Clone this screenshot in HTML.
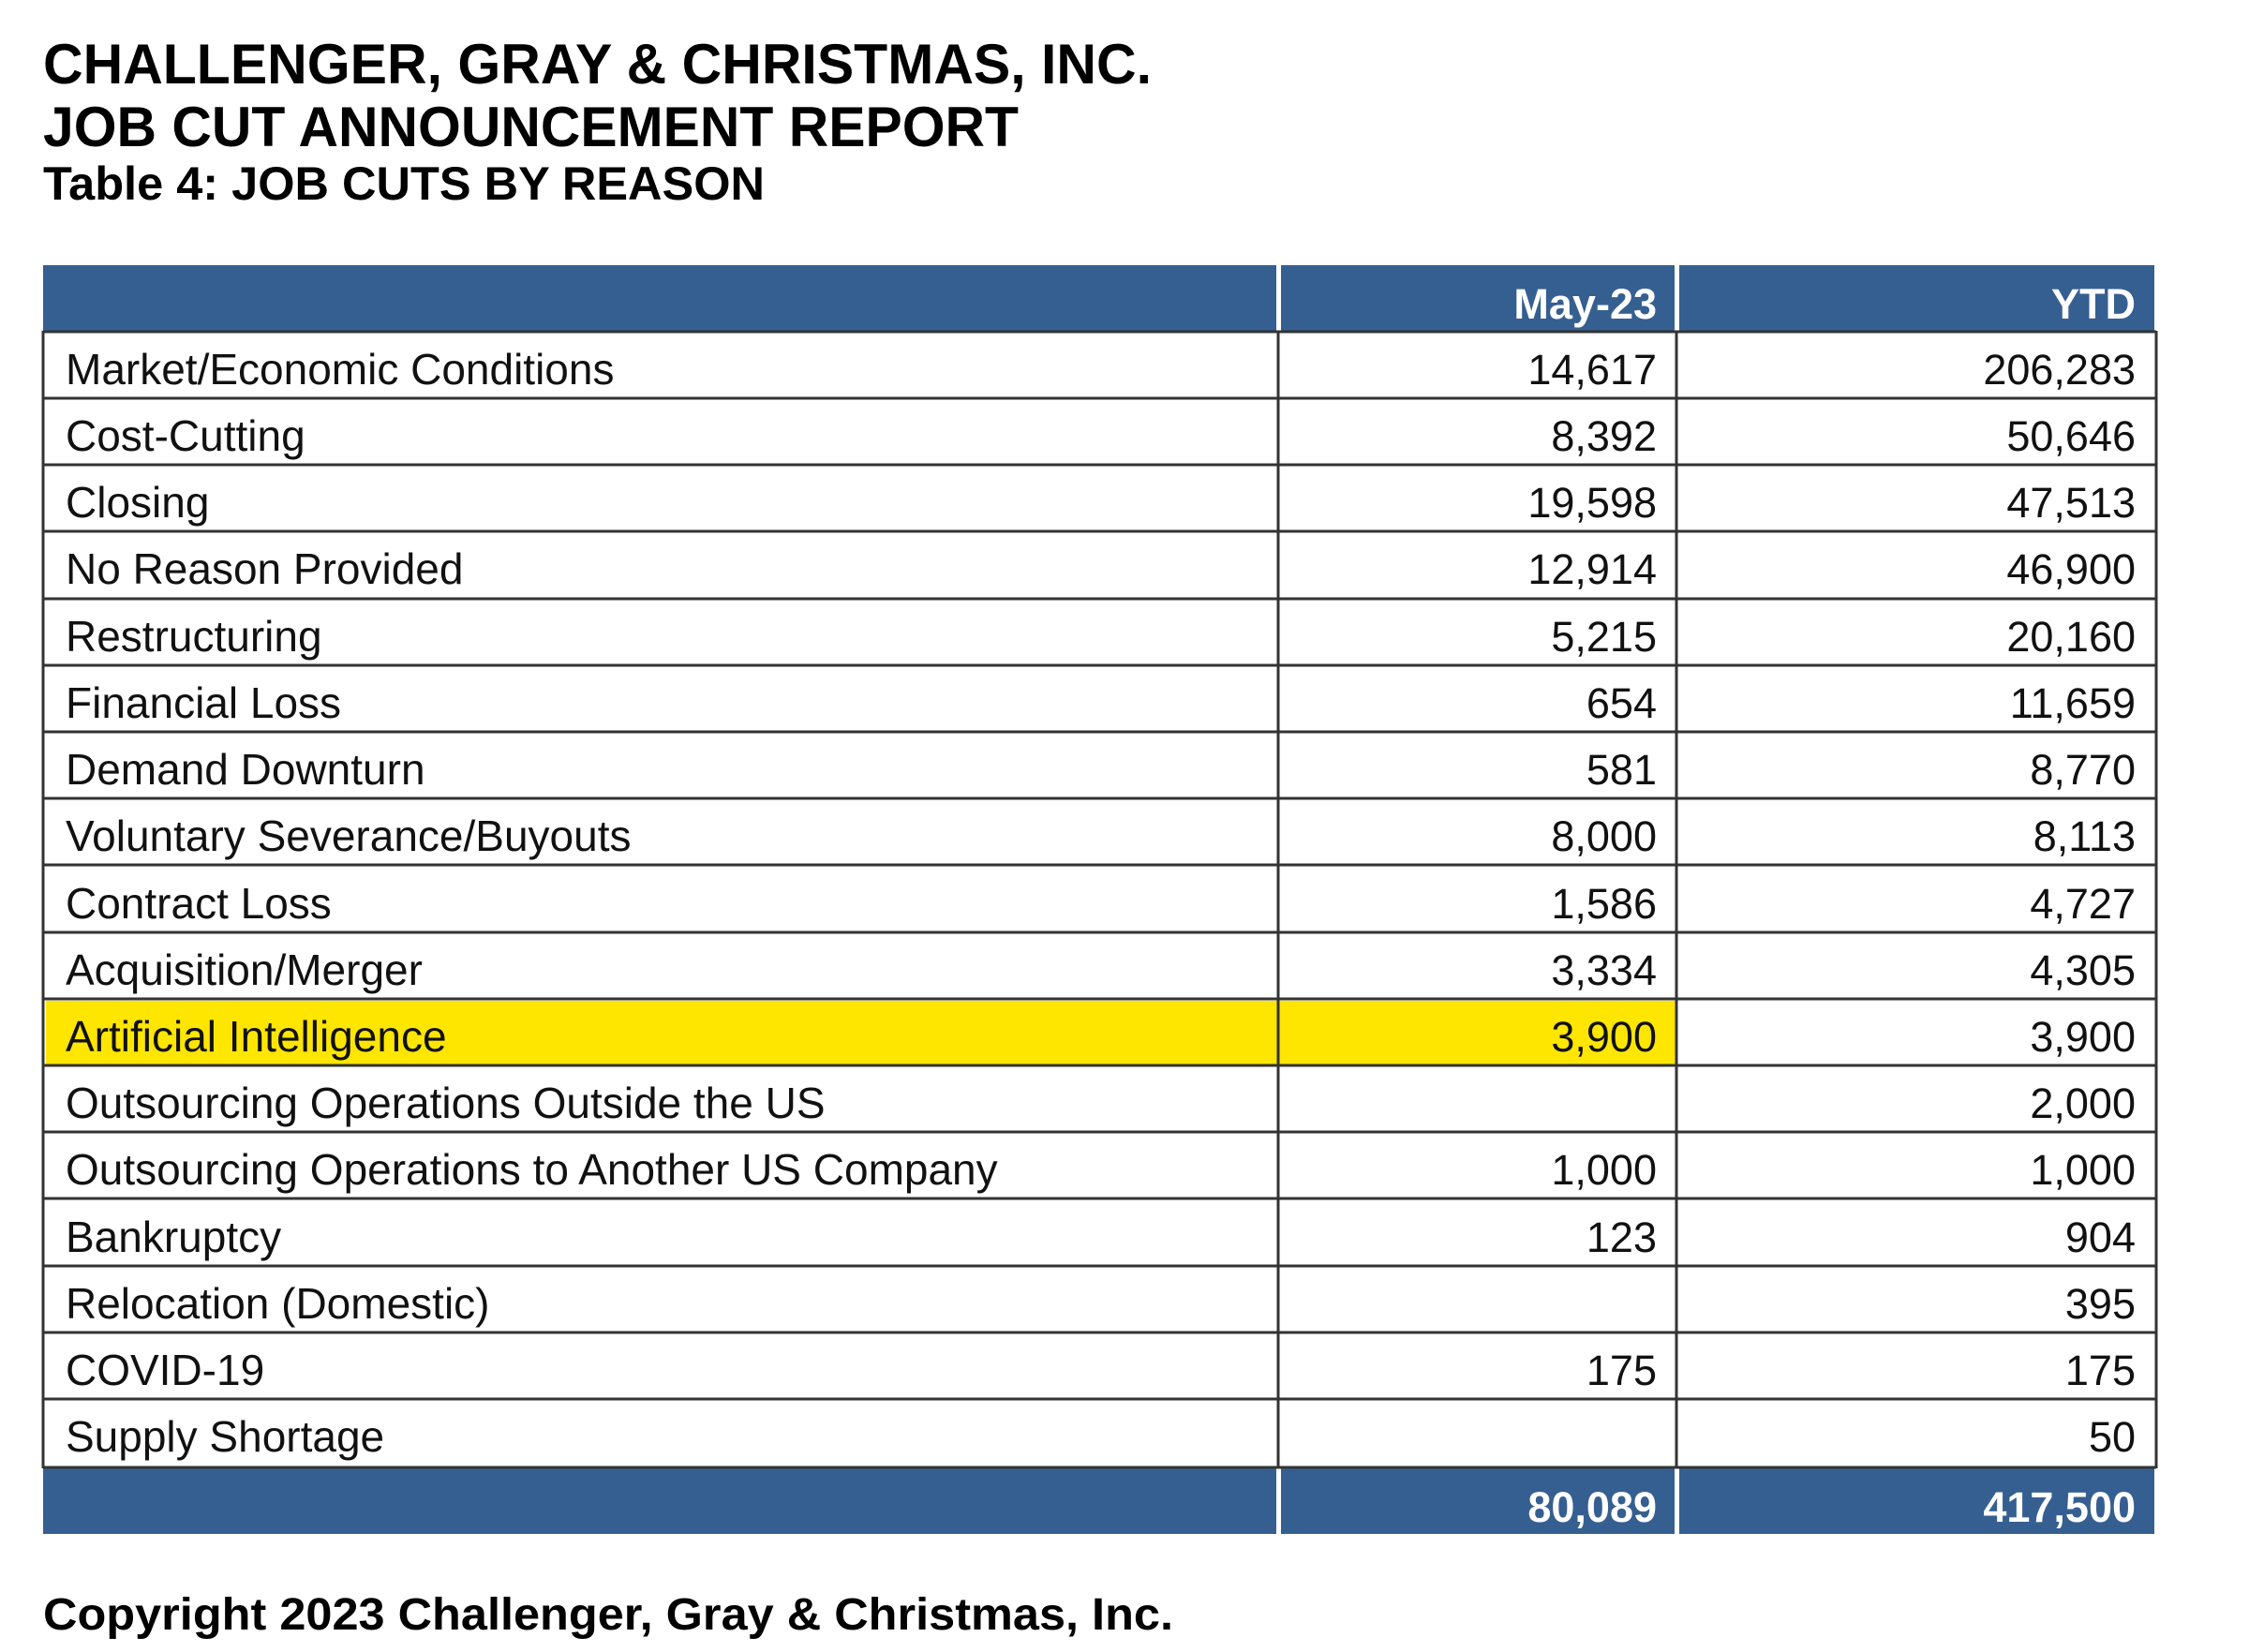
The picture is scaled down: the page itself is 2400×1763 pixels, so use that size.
<!DOCTYPE html>
<html><head><meta charset="utf-8"><style>
html,body{margin:0;padding:0;background:#fff;}
svg{display:block;}
</style></head><body>
<svg width="2400" height="1763" viewBox="0 0 2400 1763" xmlns="http://www.w3.org/2000/svg">
<rect width="2400" height="1763" fill="#fff"/>
<g font-family="'Liberation Sans', Arial, sans-serif" font-weight="bold" fill="#000">
<text x="46" y="89" font-size="60" textLength="1183" lengthAdjust="spacingAndGlyphs">CHALLENGER, GRAY &amp; CHRISTMAS, INC.</text>
<text x="46" y="156" font-size="60" textLength="1041" lengthAdjust="spacingAndGlyphs">JOB CUT ANNOUNCEMENT REPORT</text>
<text x="46" y="213" font-size="50" textLength="770" lengthAdjust="spacingAndGlyphs">Table 4: JOB CUTS BY REASON</text>
<text x="46" y="1739" font-size="48" textLength="1206" lengthAdjust="spacingAndGlyphs">Copyright 2023 Challenger, Gray &amp; Christmas, Inc.</text>
</g>
<rect x="46" y="283" width="2253" height="70" fill="#365F91"/>
<rect x="1362" y="283" width="5" height="70" fill="#fff"/>
<rect x="1787" y="283" width="5" height="70" fill="#fff"/>
<rect x="46" y="1567" width="2253" height="70" fill="#365F91"/>
<rect x="1362" y="1567" width="5" height="70" fill="#fff"/>
<rect x="1787" y="1567" width="5" height="70" fill="#fff"/>
<rect x="49" y="1068" width="1740" height="69" fill="#FFE600"/>
<g stroke="#333" stroke-width="3" fill="none">
<line x1="46" y1="353" x2="46" y2="1567"/>
<line x1="2301" y1="353" x2="2301" y2="1567"/>
<line x1="1364" y1="353" x2="1364" y2="1567"/>
<line x1="1789" y1="353" x2="1789" y2="1567"/>
<line x1="46" y1="354" x2="2301" y2="354"/>
<line x1="46" y1="425" x2="2301" y2="425"/>
<line x1="46" y1="496" x2="2301" y2="496"/>
<line x1="46" y1="567" x2="2301" y2="567"/>
<line x1="46" y1="639" x2="2301" y2="639"/>
<line x1="46" y1="710" x2="2301" y2="710"/>
<line x1="46" y1="781" x2="2301" y2="781"/>
<line x1="46" y1="852" x2="2301" y2="852"/>
<line x1="46" y1="923" x2="2301" y2="923"/>
<line x1="46" y1="995" x2="2301" y2="995"/>
<line x1="46" y1="1066" x2="2301" y2="1066"/>
<line x1="46" y1="1137" x2="2301" y2="1137"/>
<line x1="46" y1="1208" x2="2301" y2="1208"/>
<line x1="46" y1="1279" x2="2301" y2="1279"/>
<line x1="46" y1="1351" x2="2301" y2="1351"/>
<line x1="46" y1="1422" x2="2301" y2="1422"/>
<line x1="46" y1="1493" x2="2301" y2="1493"/>
<line x1="46" y1="1566" x2="2301" y2="1566"/>
</g>
<g font-family="'Liberation Sans', Carlito, sans-serif" font-size="45" font-weight="bold" fill="#fff">
<text x="1768" y="340" text-anchor="end">May-23</text>
<text x="2279" y="340" text-anchor="end">YTD</text>
<text x="1768" y="1624" text-anchor="end">80,089</text>
<text x="2279" y="1624" text-anchor="end">417,500</text>
</g>
<g font-family="'Liberation Sans', Carlito, sans-serif" font-size="46" fill="#111" transform="translate(0,3)">
<text x="70" y="407">Market/Economic Conditions</text>
<text x="70" y="478">Cost-Cutting</text>
<text x="70" y="549">Closing</text>
<text x="70" y="620">No Reason Provided</text>
<text x="70" y="692">Restructuring</text>
<text x="70" y="763">Financial Loss</text>
<text x="70" y="834">Demand Downturn</text>
<text x="70" y="905">Voluntary Severance/Buyouts</text>
<text x="70" y="977">Contract Loss</text>
<text x="70" y="1048">Acquisition/Merger</text>
<text x="70" y="1119">Artificial Intelligence</text>
<text x="70" y="1190">Outsourcing Operations Outside the US</text>
<text x="70" y="1261">Outsourcing Operations to Another US Company</text>
<text x="70" y="1333">Bankruptcy</text>
<text x="70" y="1404">Relocation (Domestic)</text>
<text x="70" y="1475">COVID-19</text>
<text x="70" y="1546">Supply Shortage</text>
</g>
<g font-family="'Liberation Sans', Carlito, sans-serif" font-size="45" fill="#111" text-anchor="end" transform="translate(0,3)">
<text x="1768" y="407">14,617</text><text x="2279" y="407">206,283</text>
<text x="1768" y="478">8,392</text><text x="2279" y="478">50,646</text>
<text x="1768" y="549">19,598</text><text x="2279" y="549">47,513</text>
<text x="1768" y="620">12,914</text><text x="2279" y="620">46,900</text>
<text x="1768" y="692">5,215</text><text x="2279" y="692">20,160</text>
<text x="1768" y="763">654</text><text x="2279" y="763">11,659</text>
<text x="1768" y="834">581</text><text x="2279" y="834">8,770</text>
<text x="1768" y="905">8,000</text><text x="2279" y="905">8,113</text>
<text x="1768" y="977">1,586</text><text x="2279" y="977">4,727</text>
<text x="1768" y="1048">3,334</text><text x="2279" y="1048">4,305</text>
<text x="1768" y="1119">3,900</text><text x="2279" y="1119">3,900</text>
<text x="2279" y="1190">2,000</text>
<text x="1768" y="1261">1,000</text><text x="2279" y="1261">1,000</text>
<text x="1768" y="1333">123</text><text x="2279" y="1333">904</text>
<text x="2279" y="1404">395</text>
<text x="1768" y="1475">175</text><text x="2279" y="1475">175</text>
<text x="2279" y="1546">50</text>
</g>
</svg>
</body></html>
